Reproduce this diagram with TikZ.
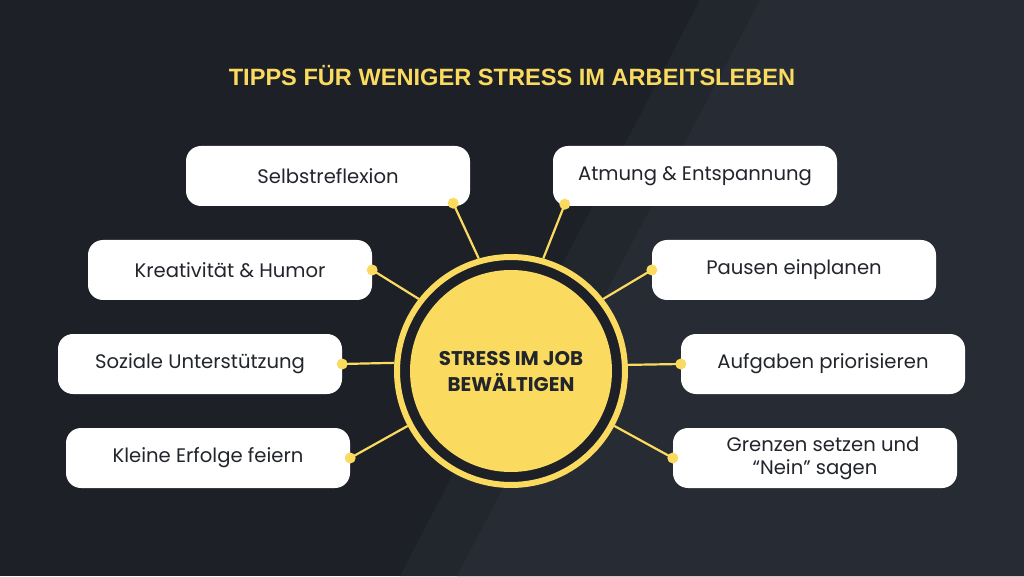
\documentclass[tikz,border=0pt]{standalone}
\usepackage{fontspec}
\setmainfont{Poppins}
\newfontfamily\titlefont{Liberation Sans}
\usetikzlibrary{positioning}

\definecolor{fond}{HTML}{1D2027}
\definecolor{fondclair}{HTML}{22272E}
\definecolor{fondreflet}{HTML}{272C34}
\definecolor{jaune}{HTML}{FADB5F}
\definecolor{encre}{HTML}{22252B}

\tikzset{
  conseil/.style={rectangle, rounded corners=15pt, fill=white, text=encre,
    minimum width=284pt, minimum height=60pt, inner sep=0pt, align=center,
    font=\fontsize{19.6}{23}\selectfont},
  anneau/.style={circle, draw=jaune, line width=6pt, fill=fond,
    minimum size=228pt, inner sep=0pt},
  disque/.style={circle, fill=jaune, text=encre, minimum size=202pt,
    inner sep=0pt, align=center, font=\fontsize{19.8}{26}\selectfont\bfseries},
  point/.style={circle, fill=jaune, minimum size=11pt, inner sep=0pt},
  lien/.style={jaune, line width=2.2pt}
}

\begin{document}
\begin{tikzpicture}[x=1pt, y=1pt]

% Fond
\fill[fond] (0,0) rectangle (1024,576);
\fill[fondclair] (700,576) -- (1024,576) -- (1024,0) -- (400,0) -- cycle;
\fill[fondreflet] (760,576) -- (1024,576) -- (1024,0) -- (457,0) -- cycle;
\useasboundingbox (0,0) rectangle (1024,576);

% Titre
\node[text=jaune, font=\titlefont\fontsize{23.6}{28}\selectfont\bfseries] (titre) at (512,500)
  {TIPPS FÜR WENIGER STRESS IM ARBEITSLEBEN};

% Cercle central
\node[anneau] (hub) at (511,205) {};
\node[disque] (coeur) at (hub.center) {STRESS IM JOB\\BEWÄLTIGEN};

% Cases de gauche
\node[conseil] (selbst) at (328,400) {Selbstreflexion};
\node[conseil] (kreativ) at (230,306) {Kreativität \& Humor};
\node[conseil] (sozial) at (200,212) {Soziale Unterstützung};
\node[conseil] (kleine) at (208,118) {Kleine Erfolge feiern};

% Cases de droite
\node[conseil] (atmung) at (695,400) {Atmung \& Entspannung};
\node[conseil] (pausen) at (794,306) {Pausen einplanen};
\node[conseil] (aufgaben) at (823,212) {Aufgaben priorisieren};
\node[conseil] (grenzen) at (815,118) {\hspace*{16pt}Grenzen setzen und\\“Nein” sagen};

% Points d'attache
\node[point] (p1) at ([shift={(-17pt,3pt)}]selbst.south east) {};
\node[point] (p2) at ([shift={(12pt,2pt)}]atmung.south west) {};
\node[point] (p3) at (kreativ.east) {};
\node[point] (p4) at (pausen.west) {};
\node[point] (p5) at (sozial.east) {};
\node[point] (p6) at (aufgaben.west) {};
\node[point] (p7) at (kleine.east) {};
\node[point] (p8) at (grenzen.west) {};

% Liens vers le cercle
\draw[lien] (p1.center) -- (hub.106);
\draw[lien] (p2.center) -- (hub.74);
\draw[lien] (p3.center) -- (hub.142);
\draw[lien] (p4.center) -- (hub.38);
\draw[lien] (p5.center) -- (hub.176.5);
\draw[lien] (p6.center) -- (hub.3.5);
\draw[lien] (p7.center) -- (hub.208.5);
\draw[lien] (p8.center) -- (hub.-28.5);

\end{tikzpicture}
\end{document}
